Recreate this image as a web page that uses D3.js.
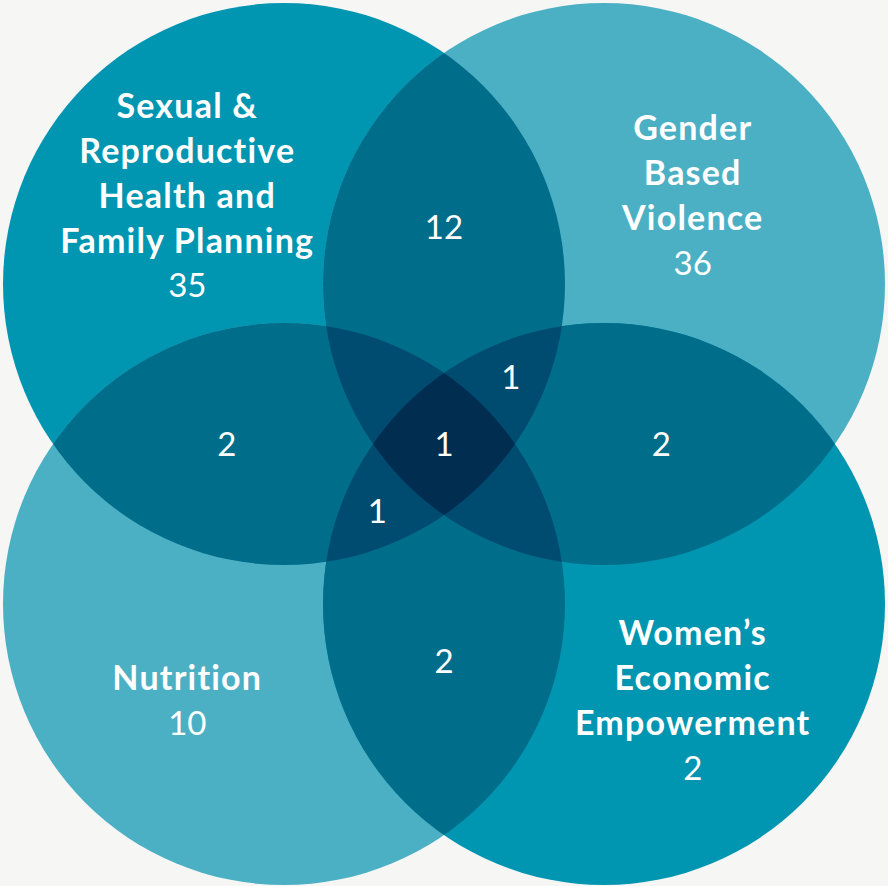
<!DOCTYPE html>
<html>
<head>
<meta charset="utf-8">
<script src="https://cdn.jsdelivr.net/npm/d3@7"></script>
<style>
  html, body { margin: 0; padding: 0; background: #f6f6f4; }
  svg { display: block; }
  text { font-family: Lato, "Open Sans", sans-serif; fill: #fff; }
</style>
</head>
<body>
<div id="vis-venn"></div>
<script>
// Sets: top-left, top-right, bottom-left, bottom-right
const setLabels = [
    ["Sexual &", "Reproductive", "Health and", "Family Planning"],
    ["Gender", "Based", "Violence"],
    ["Nutrition"],
    ["Women\u2019s", "Economic", "Empowerment"]
];
const setCounts = [35, 36, 10, 2];

// Overlaps (indices into the sets above) and their counts
const overlapSets = [[0, 1], [0, 2], [1, 3], [2, 3], [0, 1, 3], [0, 2, 3], [0, 1, 2, 3]];
const overlapCounts = [12, 2, 2, 2, 1, 1, 1];

(function(){
    const width = 888;
    const height = 886;
    const lineHeight = 45;
    const nameSize = 34;
    const numberSize = 33;

    const setColors = ["#0096b1", "#4cb0c5", "#4cb0c5", "#0096b1"];
    const depthColors = [null, null, "#006d8b", "#004c70", "#002d50"];

    // grid of circle centres in unit space
    const x = d3.scaleLinear().domain([0, 1]).range([284, 604]);
    const y = d3.scaleLinear().domain([0, 1]).range([284, 604]);
    const r = 281;

    const circles = setLabels.map((d, i) => ({ cx: x(i % 2), cy: y(Math.floor(i / 2)) }));

    const svg = d3.select("#vis-venn")
        .append("svg")
        .attr("width", width)
        .attr("height", height);

    const defs = svg.append("defs");
    circles.forEach((c, i) => {
        defs.append("clipPath")
            .attr("id", "clip" + i)
            .append("circle")
            .attr("cx", c.cx)
            .attr("cy", c.cy)
            .attr("r", r);
    });

    // every subset of circles, drawn from single to quadruple
    const subsets = [];
    for (let m = 1; m < 16; m++) {
        subsets.push([0, 1, 2, 3].filter(i => m & (1 << i)));
    }
    subsets.sort((a, b) => a.length - b.length);

    subsets.forEach(s => {
        let g = svg.append("g");
        s.slice(1).forEach(i => {
            g = g.append("g").attr("clip-path", "url(#clip" + i + ")");
        });
        const c = circles[s[0]];
        g.append("circle")
            .attr("cx", c.cx)
            .attr("cy", c.cy)
            .attr("r", r)
            .style("fill", s.length === 1 ? setColors[s[0]] : depthColors[s.length]);
    });

    // centroid of an exclusive region (inside exactly the given sets)
    function inside(px, py, i) {
        const dx = px - circles[i].cx, dy = py - circles[i].cy;
        return dx * dx + dy * dy <= r * r;
    }
    function centroid(s) {
        let sx = 0, sy = 0, n = 0;
        for (let px = 0; px < width; px += 2) {
            for (let py = 0; py < height; py += 2) {
                let ok = true;
                for (let i = 0; i < 4; i++) {
                    if (inside(px, py, i) !== s.includes(i)) { ok = false; break; }
                }
                if (ok) { sx += px; sy += py; n++; }
            }
        }
        return [sx / n, sy / n];
    }

    // set labels: bold name lines followed by the count
    setLabels.forEach((lines, i) => {
        const [cx, cy] = centroid([i]);
        const all = lines.concat([String(setCounts[i])]);
        const top = cy + 4 - (all.length - 1) * lineHeight / 2;
        const t = svg.append("text")
            .attr("text-anchor", "middle");
        all.forEach((line, j) => {
            const isName = j < lines.length;
            t.append("tspan")
                .attr("x", cx - 4)
                .attr("y", top + j * lineHeight)
                .attr("dy", "0.36em")
                .style("font-size", (isName ? nameSize : numberSize) + "px")
                .style("font-weight", isName ? 700 : 400)
                .style("letter-spacing", isName ? "1.2px" : "0px")
                .text(line);
        });
    });

    // overlap counts
    overlapSets.forEach((s, k) => {
        const [cx, cy] = centroid(s);
        svg.append("text")
            .attr("x", cx)
            .attr("y", cy)
            .attr("dy", "0.36em")
            .attr("text-anchor", "middle")
            .style("font-size", numberSize + "px")
            .text(overlapCounts[k]);
    });
})();
</script>
</body>
</html>
